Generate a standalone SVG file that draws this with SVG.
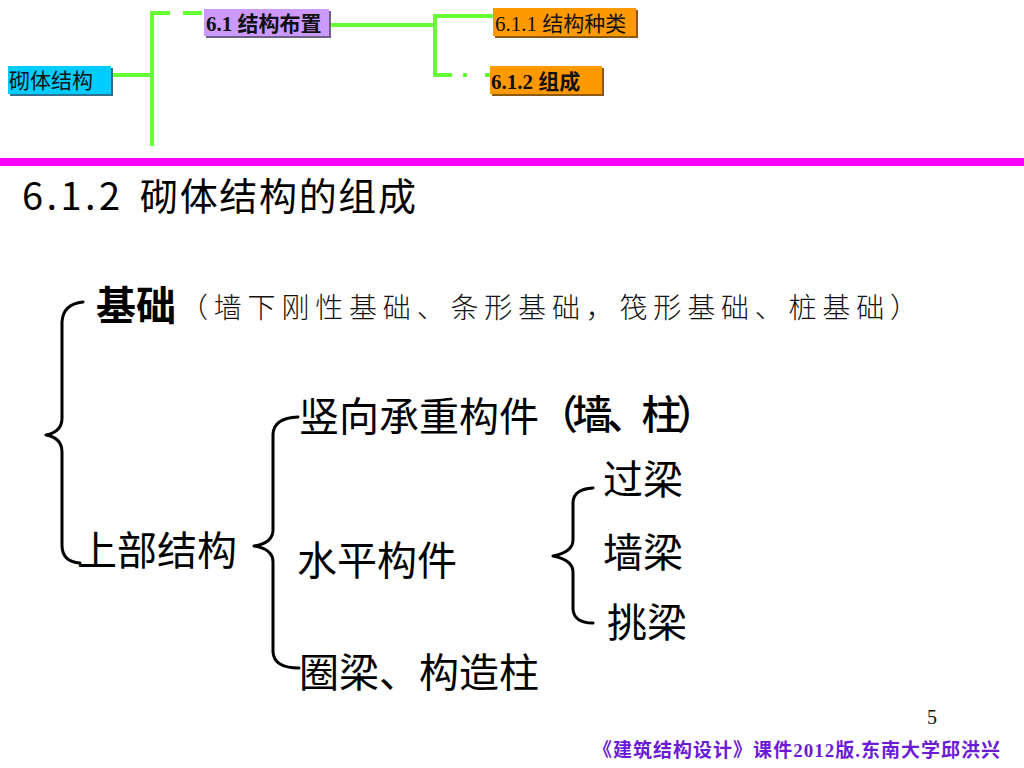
<svg xmlns="http://www.w3.org/2000/svg" width="1024" height="768" viewBox="0 0 1024 768">
<style>
.g{stroke:#66FF33;stroke-width:4;fill:none}
.nav{font-family:"Liberation Serif","Noto Sans CJK SC",serif;font-size:21px;fill:#111}
.b{font-weight:bold}
.main{font-family:"Noto Sans CJK SC",sans-serif;font-size:40px;fill:#000}
.paren{font-family:"Noto Sans CJK SC",sans-serif;font-size:28px;fill:#111;font-weight:300}
.brace{stroke:#000;stroke-width:3;fill:none;stroke-linecap:round;stroke-linejoin:round}
</style>
<rect width="1024" height="768" fill="#fff"/>

<g id="connectors">
<line class="g" x1="112" y1="75" x2="150" y2="75"/>
<line class="g" x1="152" y1="11" x2="152" y2="146"/>
<line class="g" x1="150" y1="13" x2="170" y2="13"/>
<line class="g" x1="183" y1="13" x2="202" y2="13"/>
<line class="g" x1="330" y1="25" x2="433" y2="25"/>
<line class="g" x1="435" y1="14" x2="435" y2="77"/>
<line class="g" x1="433" y1="16" x2="493" y2="16"/>
<line class="g" x1="433" y1="75" x2="452" y2="75"/>
<line class="g" x1="463" y1="75" x2="467" y2="75"/>
<line class="g" x1="485" y1="75" x2="490" y2="75"/>
</g>

<g id="node-masonry">
<rect x="10" y="68" width="103" height="28" fill="#2F6F8F"/>
<rect x="8" y="66" width="103" height="28" fill="#00CCFF"/>
<text class="nav" x="9" y="88" font-size="22">砌体结构</text>
</g>
<g id="node-61">
<rect x="206" y="11" width="125" height="27" fill="#6F6088"/>
<rect x="204" y="9" width="125" height="27" fill="#CC99FF"/>
<text class="nav b" x="206" y="31">6.1 结构布置</text>
</g>
<g id="node-611">
<rect x="495" y="10" width="143" height="28" fill="#8B5A10"/>
<rect x="493" y="8" width="143" height="28" fill="#FF9900"/>
<text class="nav" x="495" y="31">6.1.1 结构种类</text>
</g>
<g id="node-612">
<rect x="492" y="68" width="112" height="28" fill="#8B5A10"/>
<rect x="490" y="66" width="112" height="28" fill="#FF9900"/>
<text class="nav b" x="491" y="89">6.1.2 组成</text>
</g>

<rect x="0" y="158" width="1024" height="8" fill="#FF00FF"/>

<g id="title">
<text font-family="Noto Sans CJK SC,sans-serif" font-size="38" fill="#000" y="210"><tspan x="22" textLength="98" lengthAdjust="spacing">6.1.2</tspan><tspan x="140" textLength="276" lengthAdjust="spacing">砌体结构的组成</tspan></text>
</g>

<g id="braces">
<path class="brace" d="M83,302 Q63,304 62,322 L62,418 Q62,432 46,435 Q62,438 62,452 L62,545 Q62,562 80,563"/>
<path class="brace" d="M298,417 Q274,418 273,434 L273,530 Q273,543 254,546 Q273,549 273,562 L273,652 Q274,668 299,668"/>
<path class="brace" d="M593,488 Q574,489 573,502 L573,540 Q573,552 553,556 Q573,560 573,572 L573,609 Q574,623 593,623"/>
</g>

<g id="node-foundation">
<text class="main" x="96" y="320" font-size="38" font-weight="bold">基础</text>
<text class="paren" x="180" y="318" textLength="738" lengthAdjust="spacing">（墙下刚性基础、条形基础，筏形基础、桩基础）</text>
</g>
<g id="node-vertical">
<text class="main" x="299" y="431">竖向承重构件</text>
<text class="main" x="538" y="429" font-size="29" font-weight="500" textLength="178" lengthAdjust="spacing">（墙、柱）</text>
</g>
<g id="node-super">
<text class="main" x="77" y="565">上部结构</text>
</g>
<g id="node-horizontal">
<text class="main" x="297" y="575">水平构件</text>
</g>
<g id="node-ring">
<text class="main" x="299" y="687">圈梁、构造柱</text>
</g>
<g id="node-lintel">
<text class="main" x="603" y="494">过梁</text>
</g>
<g id="node-wallbeam">
<text class="main" x="603" y="567">墙梁</text>
</g>
<g id="node-cantilever">
<text class="main" x="607" y="637">挑梁</text>
</g>

<text x="927" y="724" font-family="Liberation Serif,serif" font-size="20" fill="#111">5</text>
<text x="593" y="757" font-family="Liberation Serif,Noto Sans CJK SC,serif" font-size="19" font-weight="bold" fill="#6B1BD6" textLength="407" lengthAdjust="spacing">《建筑结构设计》课件2012版.东南大学邱洪兴</text>
</svg>
